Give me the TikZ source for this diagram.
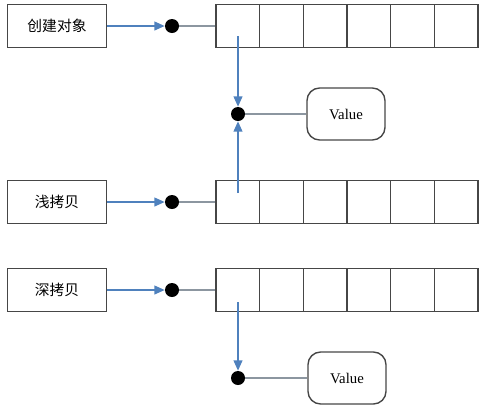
\documentclass[tikz,border=0pt]{standalone}
\usepackage{fontspec}
\setmainfont{Liberation Serif}
\newfontfamily\cjk{Noto Sans CJK SC}
\usetikzlibrary{arrows.meta, positioning}
\definecolor{linkblue}{RGB}{79, 129, 189}
\definecolor{wiregray}{RGB}{140, 150, 160}
\definecolor{boxgray}{RGB}{70, 70, 70}

\begin{document}
\begin{tikzpicture}[x=0.025cm, y=-0.025cm,
    labelbox/.style={draw=boxgray, line width=1pt, minimum width=2.475cm, minimum height=1.075cm,
                     inner sep=0pt, font=\cjk\fontsize{10.5}{12}\selectfont},
    cell/.style={draw=boxgray, line width=1pt, minimum width=1.092cm, minimum height=1.075cm, inner sep=0pt},
    refdot/.style={circle, fill=black, minimum size=0.35cm, inner sep=0pt},
    valuebox/.style={draw=boxgray, line width=1pt, rounded corners=9pt, minimum width=1.95cm,
                     minimum height=1.3cm, font=\fontsize{10.5}{12}\selectfont},
    link/.style={linkblue, line width=1.2pt, -{Triangle[length=2.6mm, width=2.2mm]}},
    wire/.style={wiregray, line width=1pt}]
    \useasboundingbox (0,0) rectangle (487,409);

    % Operation labels
    \node[labelbox] (create) at (57,26) {创建对象};
    \node[labelbox] (shallow) at (57,202) {浅拷贝};
    \node[labelbox] (deep) at (57,290) {深拷贝};

    % Reference dots
    \node[refdot] (d1) at (172,26) {};
    \node[refdot] (d2) at (172,202) {};
    \node[refdot] (d3) at (172,290) {};

    % Arrays of six cells
    \foreach \r/\y in {1/26, 2/202, 3/290}
      \foreach \k in {1,...,6}
        \node[cell] (a\r-\k) at ({216+43.67*(\k-0.5)},\y) {};

    % Values
    \node[refdot] (v1) at (238,114) {};
    \node[valuebox] (val1) at (346,114) {Value};
    \node[refdot] (v3) at (238,378) {};
    \node[valuebox] (val3) at (347,378) {Value};

    % Labels to arrays
    \draw[link] (create) -- (d1);
    \draw[link] (shallow) -- (d2);
    \draw[link] (deep) -- (d3);
    \draw[wire] (d1) -- (a1-1);
    \draw[wire] (d2) -- (a2-1);
    \draw[wire] (d3) -- (a3-1);

    % Arrays to values
    \coordinate (s1) at (238,36);
    \coordinate (s2) at (238,193);
    \coordinate (s3) at (238,302);
    \draw[link] (s1) -- (v1);
    \draw[link] (s2) -- (v1);
    \draw[link] (s3) -- (v3);
    \draw[wire] (v1) -- (val1);
    \draw[wire] (v3) -- (val3);
\end{tikzpicture}
\end{document}
